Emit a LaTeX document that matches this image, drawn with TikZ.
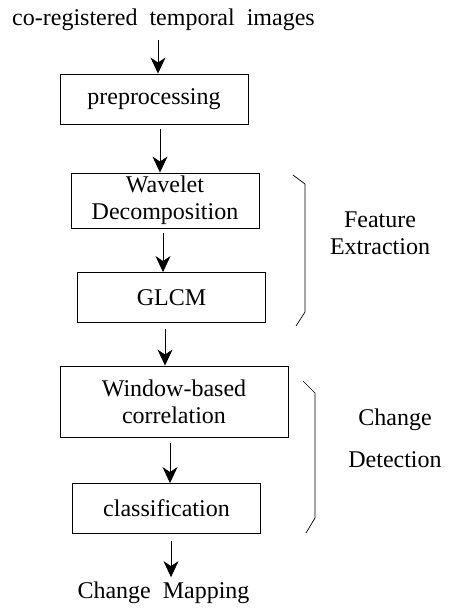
\documentclass[tikz,border=0pt]{standalone}
\usepackage{fontspec}
\setmainfont{Liberation Serif}
\usetikzlibrary{arrows.meta}
\begin{document}
\begin{tikzpicture}[x=1pt, y=-1pt, font=\fontsize{24}{27}\selectfont, line join=miter,
		>={Stealth[length=16pt, width=15pt, inset=5pt]},
		box/.style={draw, line width=0.9pt, inner sep=0pt, minimum width=188pt, minimum height=50pt, align=center},
		arr/.style={->, line width=0.7pt},
		brace/.style={line width=0.7pt}]
	\useasboundingbox (0,0) rectangle (448,608);
	% flow
	\node[anchor=base, inner sep=0pt] (src) at (163.5,25) {co-registered\enspace temporal\enspace images};
	\node[box] (pre) at (154,99) {preprocessing};
	\node[box, minimum height=55pt] (wav) at (165,200.5) {Wavelet\\Decomposition};
	\node[box] (glcm) at (171.5,297.5) {GLCM};
	\node[box, minimum width=228pt, minimum height=71pt] (win) at (174,401.5) {Window-based\\correlation};
	\node[box] (cls) at (166.5,508.5) {classification};
	\node[anchor=base, inner sep=0pt] (map) at (163.5,598) {Change\enspace Mapping};
	\draw[arr] ([xshift=-5.5pt, yshift=-10pt]src.south) -- ([xshift=4pt]pre.north);
	\draw[arr] ([xshift=6pt, yshift=-5pt]pre.south) -- ([xshift=-5pt]wav.north);
	\draw[arr] ([xshift=-2pt, yshift=-5pt]wav.south) -- ([xshift=-8.5pt]glcm.north);
	\draw[arr] ([xshift=-6.5pt, yshift=-6pt]glcm.south) -- ([xshift=-9pt]win.north);
	\draw[arr] ([xshift=-4pt, yshift=-6pt]win.south) -- ([xshift=3.5pt]cls.north);
	\draw[arr] ([xshift=4.5pt, yshift=-7pt]cls.south) -- ([xshift=7.5pt, yshift=4pt]map.north);
	% brackets
	\draw[brace] (293,175) -- (305,184) -- (305,312) -- (296,326);
	\draw[brace] (303,381) -- (315,393) -- (315,518) -- (306,533);
	\node[align=center, inner sep=0pt] (fe) at (380,233) {Feature\\Extraction};
	\node[align=center, inner sep=0pt] (cd) at (395,438) {Change\\[15pt]Detection};
\end{tikzpicture}
\end{document}
